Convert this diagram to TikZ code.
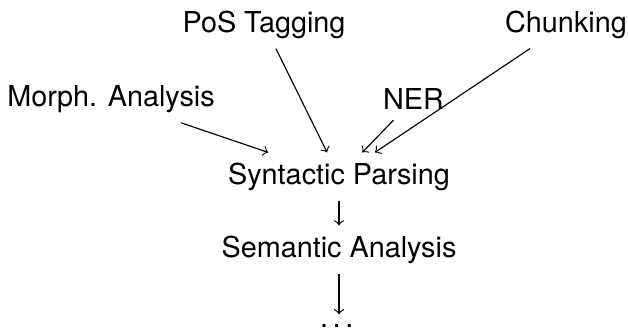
\documentclass[tikz,border=0pt]{standalone}
\usepackage{fontspec}
\setmainfont{TeX Gyre Heros}
\begin{document}
% 1 unit = 1/2.88 pt, y axis pointing down
\begin{tikzpicture}[x=0.34722pt,y=-0.34722pt,
    stage/.style={inner sep=.3333em},
    feed/.style={->}]
  \useasboundingbox (0,0) rectangle (628,328);

  % pipeline stages
  \node[stage] (pos)   at (264,24.5)  {PoS Tagging};
  \node[stage] (chunk) at (566,24.5)  {Chunking};
  \node[stage] (morph) at (111,99)    {Morph. Analysis};
  \node[stage] (ner)   at (413.5,99.5){NER};
  \node[stage] (syn)   at (339,176.5) {Syntactic Parsing};
  \node[stage] (sem)   at (339,249.5) {Semantic Analysis};
  \node[stage] (more)  at (339,326)   {.\kern.16em.\kern.16em.\kern.16em};

  % dependencies
  \draw[feed] (morph) -- (syn);
  \draw[feed] (pos)   -- (syn);
  \draw[feed] (ner)   -- (syn);
  \draw[feed] (chunk) -- (syn);
  \draw[feed] (syn)   -- (sem);
  \draw[feed] (sem)   -- (more);
\end{tikzpicture}
\end{document}
